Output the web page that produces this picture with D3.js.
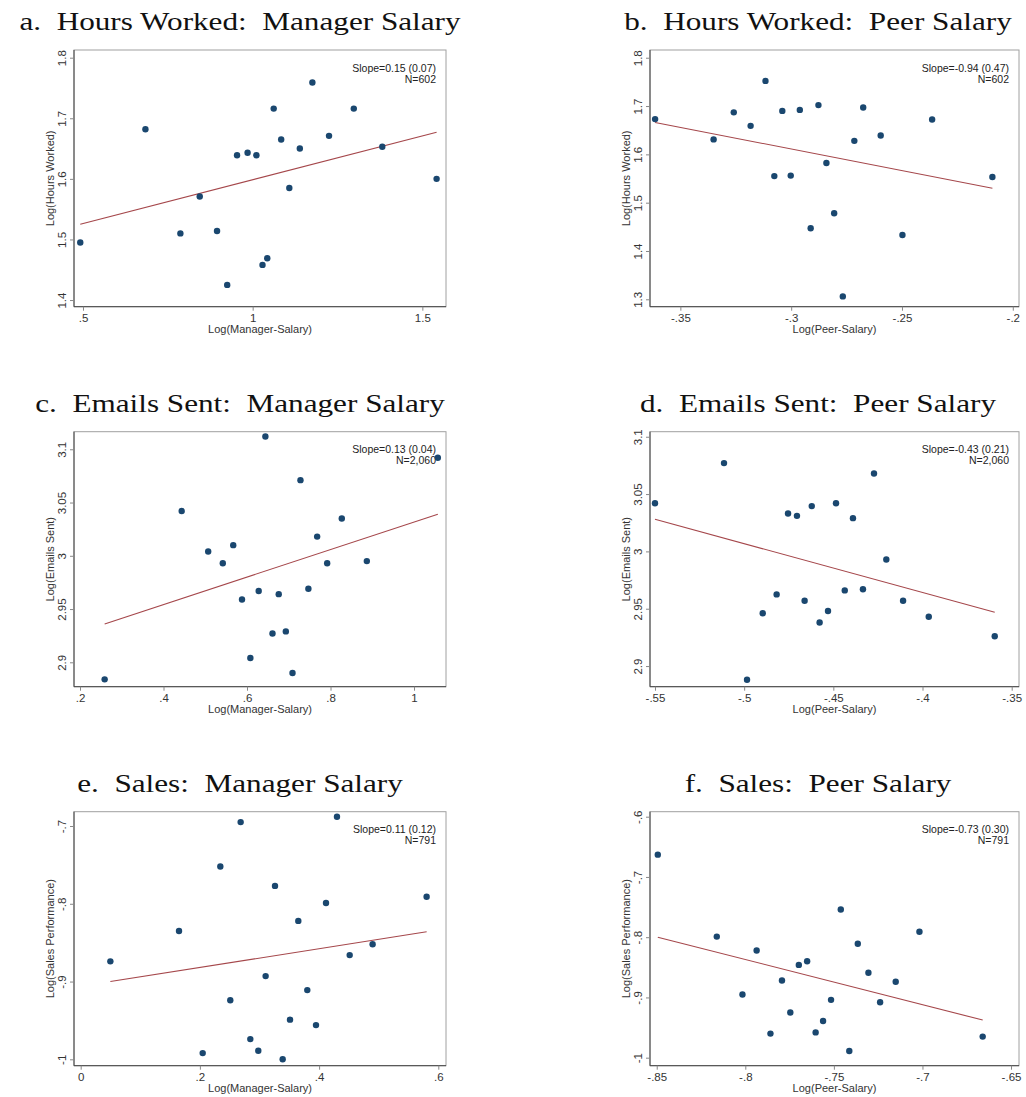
<!DOCTYPE html>
<html>
<head>
<meta charset="utf-8">
<script src="https://cdn.jsdelivr.net/npm/d3@7"></script>
<style>
  body { margin: 0; background: #fff; }
  svg { display: block; }
  .panel-title { font-family: "Liberation Serif", "Times New Roman", serif; font-size: 26px; fill: #111; white-space: pre; }
  .axis text { font-family: "Liberation Sans", Arial, sans-serif; font-size: 11.5px; fill: #333; }
  .axis path { stroke: #444; }
  .axis line { stroke: #888; }
  .axis-label { font-family: "Liberation Sans", Arial, sans-serif; font-size: 11px; fill: #333; }
  .stat { font-family: "Liberation Sans", Arial, sans-serif; font-size: 10.5px; fill: #222; }
</style>
</head>
<body>
<svg id="chart" width="1026" height="1097"></svg>
<script>

// a. hours worked vs manager salary
const hoursMgrX = [0.492, 0.684, 0.787, 0.844, 0.895, 0.925, 0.954, 0.985, 1.011, 1.029, 1.043, 1.062, 1.084, 1.108, 1.139, 1.176, 1.225, 1.298, 1.382, 1.542];
const hoursMgrY = [1.495, 1.682, 1.510, 1.571, 1.514, 1.425, 1.639, 1.643, 1.639, 1.458, 1.469, 1.716, 1.665, 1.585, 1.650, 1.759, 1.671, 1.716, 1.653, 1.600];
const hoursMgrFit = [[0.492, 1.525], [1.542, 1.677]];

// b. hours worked vs peer salary
const hoursPeerX = [-0.3614, -0.335, -0.3259, -0.3183, -0.3116, -0.3076, -0.304, -0.3002, -0.2961, -0.2912, -0.2877, -0.2841, -0.2806, -0.2767, -0.2715, -0.2675, -0.2596, -0.2498, -0.2364, -0.2092];
const hoursPeerY = [1.673, 1.631, 1.687, 1.659, 1.752, 1.555, 1.690, 1.556, 1.692, 1.447, 1.702, 1.582, 1.478, 1.306, 1.628, 1.697, 1.639, 1.433, 1.672, 1.553];
const hoursPeerFit = [[-0.3614, 1.666], [-0.2092, 1.530]];

// c. emails sent vs manager salary
const emailsMgrX = [0.259, 0.4435, 0.507, 0.542, 0.567, 0.588, 0.608, 0.628, 0.644, 0.661, 0.676, 0.693, 0.709, 0.728, 0.747, 0.768, 0.792, 0.827, 0.887, 1.057];
const emailsMgrY = [2.884, 3.042, 3.004, 2.993, 3.010, 2.959, 2.904, 2.967, 3.112, 2.927, 2.964, 2.929, 2.890, 3.071, 2.969, 3.018, 2.993, 3.035, 2.995, 3.092];
const emailsMgrFit = [[0.259, 2.936], [1.057, 3.039]];

// d. emails sent vs peer salary
const emailsPeerX = [-0.55, -0.5113, -0.4984, -0.4896, -0.4818, -0.4754, -0.4704, -0.4661, -0.4621, -0.4577, -0.453, -0.4485, -0.4436, -0.439, -0.4334, -0.4272, -0.4203, -0.4109, -0.3965, -0.3595];
const emailsPeerY = [3.042, 3.077, 2.888, 2.946, 2.9625, 3.033, 3.031, 2.957, 3.0395, 2.938, 2.948, 3.042, 2.966, 3.029, 2.967, 3.068, 2.993, 2.957, 2.943, 2.926];
const emailsPeerFit = [[-0.55, 3.028], [-0.3595, 2.947]];

// e. sales vs manager salary
const salesMgrX = [0.0498, 0.165, 0.2047, 0.2343, 0.251, 0.2684, 0.2846, 0.298, 0.3103, 0.326, 0.3389, 0.3512, 0.3651, 0.3802, 0.3948, 0.4116, 0.43, 0.4513, 0.4898, 0.5804];
const salesMgrY = [-0.874, -0.835, -0.992, -0.752, -0.924, -0.695, -0.974, -0.989, -0.893, -0.777, -1.000, -0.949, -0.822, -0.911, -0.956, -0.799, -0.688, -0.866, -0.852, -0.791];
const salesMgrFit = [[0.0498, -0.900], [0.5804, -0.836]];

// f. sales vs peer salary
const salesPeerX = [-0.8494, -0.8161, -0.8016, -0.7936, -0.7858, -0.7793, -0.7746, -0.7698, -0.7651, -0.7603, -0.7561, -0.7516, -0.7461, -0.7413, -0.7365, -0.7305, -0.7239, -0.7151, -0.7017, -0.666];
const salesPeerY = [-0.663, -0.799, -0.895, -0.822, -0.960, -0.872, -0.925, -0.846, -0.840, -0.958, -0.939, -0.904, -0.754, -0.989, -0.811, -0.859, -0.908, -0.874, -0.791, -0.965];
const salesPeerFit = [[-0.8494, -0.800], [-0.666, -0.9375]];

// axis extents and tick values
const hoursMgrXDomain = [0.4735, 1.5697], hoursMgrYDomain = [1.389, 1.8127];
const hoursPeerXDomain = [-0.3637, -0.1972], hoursPeerYDomain = [1.2847, 1.816];
const emailsMgrXDomain = [0.1856, 1.0766], emailsMgrYDomain = [2.8771, 3.1165];
const emailsPeerXDomain = [-0.5528, -0.3459], emailsPeerYDomain = [2.882, 3.1044];
const salesMgrXDomain = [-0.0112, 0.6129], salesMgrYDomain = [-1.0082, -0.6816];
const salesPeerXDomain = [-0.8538, -0.6455], salesPeerYDomain = [-1.0133, -0.5917];

const mgrHoursXTicks = [0.5, 1, 1.5];
const hoursYTicks = [1.4, 1.5, 1.6, 1.7, 1.8];
const peerHoursXTicks = [-0.35, -0.3, -0.25, -0.2];
const peerHoursYTicks = [1.3, 1.4, 1.5, 1.6, 1.7, 1.8];
const mgrEmailsXTicks = [0.2, 0.4, 0.6, 0.8, 1];
const emailsYTicks = [2.9, 2.95, 3, 3.05, 3.1];
const peerEmailsXTicks = [-0.55, -0.5, -0.45, -0.4, -0.35];
const mgrSalesXTicks = [0, 0.2, 0.4, 0.6];
const mgrSalesYTicks = [-1, -0.9, -0.8, -0.7];
const peerSalesXTicks = [-0.85, -0.8, -0.75, -0.7, -0.65];
const peerSalesYTicks = [-1, -0.9, -0.8, -0.7, -0.6];

const titles = ["a.  Hours Worked:  Manager Salary", "b.  Hours Worked:  Peer Salary",
                "c.  Emails Sent:  Manager Salary", "d.  Emails Sent:  Peer Salary",
                "e.  Sales:  Manager Salary", "f.  Sales:  Peer Salary"];
const xLabels = ["Log(Manager-Salary)", "Log(Peer-Salary)", "Log(Manager-Salary)", "Log(Peer-Salary)", "Log(Manager-Salary)", "Log(Peer-Salary)"];
const yLabels = ["Log(Hours Worked)", "Log(Hours Worked)", "Log(Emails Sent)", "Log(Emails Sent)", "Log(Sales Performance)", "Log(Sales Performance)"];
const slopeTexts = ["Slope=0.15 (0.07)", "Slope=-0.94 (0.47)", "Slope=0.13 (0.04)", "Slope=-0.43 (0.21)", "Slope=0.11 (0.12)", "Slope=-0.73 (0.30)"];
const nTexts = ["N=602", "N=602", "N=2,060", "N=2,060", "N=791", "N=791"];

// Stata style numbers: drop the leading zero
const stataFmt = v => {
    let s = String(+v.toFixed(3));
    return s.replace(/^0\./, '.').replace(/^-0\./, '-.');
};

class ScatterPanel {
    constructor(_config, _x, _y, _fit) {
        this.config = _config;
        this.data = _x.map((d, i) => ({x: d, y: _y[i]}));
        this.fit = _fit;
        this.initVis();
    }

    initVis() {
        let vis = this;
        let c = vis.config;

        vis.width = c.right - c.left;
        vis.height = c.bottom - c.top;

        vis.xScale = d3.scaleLinear().domain(c.xDomain).range([0, vis.width]);
        vis.yScale = d3.scaleLinear().domain(c.yDomain).range([vis.height, 0]);

        vis.svg = d3.select('#chart');

        // title above the panel (stretched a bit, the original is set in a wide LaTeX font)
        vis.svg.append('text')
            .attr('class', 'panel-title')
            .attr('transform', `translate(${c.titleX},${c.top - 20}) scale(1.2,1)`)
            .attr('text-anchor', 'middle')
            .text(c.title);

        vis.chart = vis.svg.append('g')
            .attr('transform', `translate(${c.left},${c.top})`);

        // outer frame (top / right)
        vis.chart.append('rect')
            .attr('width', vis.width)
            .attr('height', vis.height)
            .attr('fill', 'none')
            .attr('stroke', '#a0a0a0')
            .attr('stroke-width', 1);

        vis.xAxis = d3.axisBottom(vis.xScale)
            .tickValues(c.xTicks)
            .tickFormat(stataFmt)
            .tickSizeInner(4)
            .tickSizeOuter(0)
            .tickPadding(3);

        vis.yAxis = d3.axisLeft(vis.yScale)
            .tickValues(c.yTicks)
            .tickFormat(stataFmt)
            .tickSizeInner(4)
            .tickSizeOuter(0);

        vis.xAxisG = vis.chart.append('g')
            .attr('class', 'axis x-axis')
            .attr('transform', `translate(0,${vis.height})`)
            .call(vis.xAxis);
        vis.xAxisG.select('.domain').attr('d', `M0,0H${vis.width}`);

        vis.yAxisG = vis.chart.append('g')
            .attr('class', 'axis y-axis')
            .call(vis.yAxis);
        vis.yAxisG.select('.domain').attr('d', `M0,0V${vis.height}`);
        vis.yAxisG.selectAll('text')
            .attr('x', null)
            .attr('dy', null)
            .attr('text-anchor', 'middle')
            .attr('transform', 'translate(-8,0) rotate(-90)');

        vis.chart.append('text')
            .attr('class', 'axis-label')
            .attr('x', vis.width / 2)
            .attr('y', vis.height + 26)
            .attr('text-anchor', 'middle')
            .text(c.xLabel);

        vis.chart.append('text')
            .attr('class', 'axis-label')
            .attr('transform', `translate(-20,${vis.height / 2}) rotate(-90)`)
            .attr('text-anchor', 'middle')
            .text(c.yLabel);

        vis.chart.append('text')
            .attr('class', 'stat')
            .attr('x', vis.width - 10)
            .attr('y', 21.5)
            .attr('text-anchor', 'end')
            .text(c.slope);
        vis.chart.append('text')
            .attr('class', 'stat')
            .attr('x', vis.width - 10)
            .attr('y', 32.5)
            .attr('text-anchor', 'end')
            .text(c.n);

        vis.renderVis();
    }

    renderVis() {
        let vis = this;

        vis.chart.append('line')
            .attr('class', 'fit')
            .attr('x1', vis.xScale(vis.fit[0][0]))
            .attr('y1', vis.yScale(vis.fit[0][1]))
            .attr('x2', vis.xScale(vis.fit[1][0]))
            .attr('y2', vis.yScale(vis.fit[1][1]))
            .attr('stroke', '#a5474b')
            .attr('stroke-width', 1.1);

        vis.chart.selectAll('.dot')
            .data(vis.data)
            .join('circle')
            .attr('class', 'dot')
            .attr('cx', d => vis.xScale(d.x))
            .attr('cy', d => vis.yScale(d.y))
            .attr('r', 3.2)
            .attr('fill', '#1a476f');
    }
}

const cols = [{left: 74, right: 446, titleX: 240}, {left: 650, right: 1019, titleX: 818}];
const rows = [{top: 50, bottom: 306.7}, {top: 431.7, bottom: 686.7}, {top: 811.7, bottom: 1065.7}];

const panels = [
    [hoursMgrX, hoursMgrY, hoursMgrFit, hoursMgrXDomain, hoursMgrYDomain, mgrHoursXTicks, hoursYTicks],
    [hoursPeerX, hoursPeerY, hoursPeerFit, hoursPeerXDomain, hoursPeerYDomain, peerHoursXTicks, peerHoursYTicks],
    [emailsMgrX, emailsMgrY, emailsMgrFit, emailsMgrXDomain, emailsMgrYDomain, mgrEmailsXTicks, emailsYTicks],
    [emailsPeerX, emailsPeerY, emailsPeerFit, emailsPeerXDomain, emailsPeerYDomain, peerEmailsXTicks, emailsYTicks],
    [salesMgrX, salesMgrY, salesMgrFit, salesMgrXDomain, salesMgrYDomain, mgrSalesXTicks, mgrSalesYTicks],
    [salesPeerX, salesPeerY, salesPeerFit, salesPeerXDomain, salesPeerYDomain, peerSalesXTicks, peerSalesYTicks]
];

panels.forEach((p, i) => {
    let col = cols[i % 2], row = rows[Math.floor(i / 2)];
    new ScatterPanel({
        left: col.left, right: col.right, titleX: col.titleX,
        top: row.top, bottom: row.bottom,
        xDomain: p[3], yDomain: p[4], xTicks: p[5], yTicks: p[6],
        title: titles[i], xLabel: xLabels[i], yLabel: yLabels[i],
        slope: slopeTexts[i], n: nTexts[i]
    }, p[0], p[1], p[2]);
});

</script>
</body>
</html>
